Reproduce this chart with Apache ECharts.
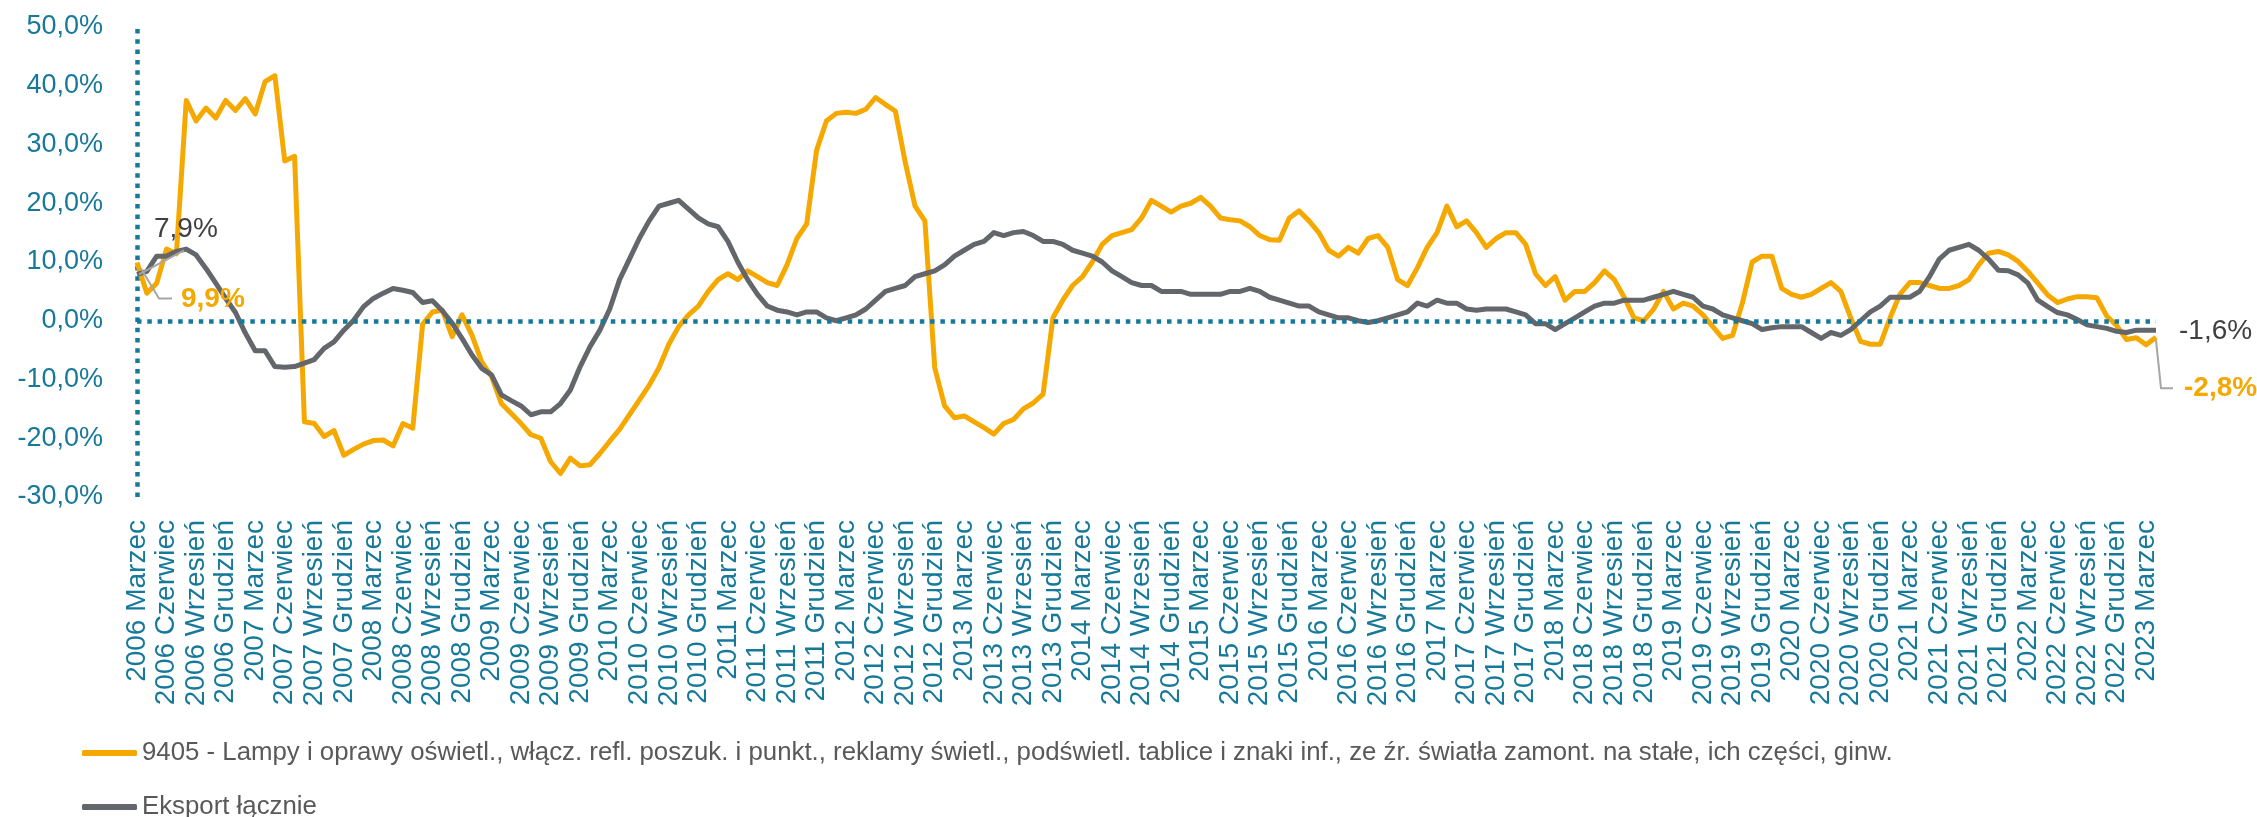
<!DOCTYPE html>
<html>
<head>
<meta charset="utf-8">
<script src="https://cdn.jsdelivr.net/npm/echarts/dist/echarts.min.js"></script>
<style>
  html, body { margin: 0; padding: 0; background: #fff; }
  #main { width: 2257px; height: 817px; }
</style>
</head>
<body>
<div id="main"></div>
<script>
// miesiące od 2006 Marzec do 2023 Kwiecień
var monthNames = ['Styczeń', 'Luty', 'Marzec', 'Kwiecień', 'Maj', 'Czerwiec', 'Lipiec',
                  'Sierpień', 'Wrzesień', 'Październik', 'Listopad', 'Grudzień'];
var startYear = 2006, startMonth = 2, monthCount = 206;

var lampyName = '9405 - Lampy i oprawy oświetl., włącz. refl. poszuk. i punkt., reklamy świetl., podświetl. tablice i znaki inf., ze źr. światła zamont. na stałe, ich części, ginw.';
var eksportName = 'Eksport łącznie';

// dynamika r/r, %
var lampy = [
  9.9, 4.7, 6.4, 12.2, 11.4, 37.5, 34.0, 36.2, 34.5, 37.5, 35.8, 37.8,
  35.2, 40.7, 41.7, 27.2, 28.0, -17.2, -17.5, -19.7, -18.7, -22.9, -21.9, -21.0,
  -20.4, -20.3, -21.3, -17.5, -18.3, -0.6, 1.5, 1.8, -2.7, 1.0, -2.4, -7.0,
  -9.5, -14.1, -15.8, -17.5, -19.4, -20.0, -24.0, -26.0, -23.4, -24.7, -24.5, -22.6,
  -20.5, -18.5, -16.0, -13.5, -11.0, -8.0, -4.0, -1.0, 1.0, 2.5, 5.0, 7.0,
  8.0, 7.0, 8.5, 7.5, 6.5, 6.0, 9.5, 14.0, 16.5, 29.0, 34.0, 35.3,
  35.5, 35.3, 36.0, 38.0, 36.8, 35.7, 27.0, 19.5, 17.0, -8.0, -14.5, -16.5,
  -16.2, -17.2, -18.2, -19.3, -17.5, -16.8, -15.0, -14.0, -12.5, 0.5, 3.5, 6.0,
  7.5, 10.0, 13.0, 14.5, 15.0, 15.5, 17.5, 20.5, 19.5, 18.5, 19.5, 20.0,
  21.0, 19.5, 17.5, 17.2, 17.0, 16.0, 14.5, 13.8, 13.7, 17.5, 18.7, 17.0,
  15.0, 12.0, 11.0, 12.5, 11.5, 14.0, 14.5, 12.5, 7.0, 6.0, 9.0, 12.5,
  15.0, 19.5, 16.0, 17.0, 15.0, 12.5, 14.0, 15.0, 15.0, 13.0, 8.0, 6.0,
  7.5, 3.5, 5.0, 5.0, 6.5, 8.5, 7.0, 4.0, 0.5, 0.0, 2.0, 5.0,
  2.0, 3.0, 2.5, 1.0, -1.0, -3.0, -2.5, 3.0, 10.0, 11.0, 11.0, 5.5,
  4.5, 4.0, 4.5, 5.5, 6.5, 5.0, 0.5, -3.5, -4.0, -4.0, 0.5, 4.5,
  6.5, 6.5, 6.0, 5.5, 5.5, 6.0, 7.0, 9.5, 11.5, 11.8, 11.2, 10.1,
  8.4, 6.4, 4.4, 3.1, 3.7, 4.1, 4.1, 3.9, 0.8, -0.8, -3.2, -2.9,
  -4.1, -2.8
];

var eksport = [
  7.9, 8.4, 11.0, 11.0, 11.8, 12.2, 11.2, 8.9, 6.4, 3.8, 1.4, -2.1,
  -5.1, -5.1, -7.8, -7.9, -7.8, -7.2, -6.6, -4.7, -3.6, -1.6, 0.1, 2.4,
  3.8, 4.7, 5.5, 5.2, 4.8, 3.1, 3.4, 1.7, -0.4, -3.0, -5.8, -8.1,
  -9.2, -12.6, -13.6, -14.5, -16.0, -15.5, -15.5, -14.1, -11.8, -7.8, -4.4, -1.6,
  2.0, 7.0, 10.5, 14.0, 17.0, 19.5, 20.0, 20.5, 19.0, 17.5, 16.5, 16.0,
  13.5, 10.0, 7.0, 4.5, 2.5, 1.8, 1.5, 1.0, 1.5, 1.5, 0.5, 0.0,
  0.5, 1.0, 2.0, 3.5, 5.0, 5.5, 6.0, 7.5, 8.0, 8.5, 9.5, 11.0,
  12.0, 13.0, 13.5, 15.0, 14.5, 15.0, 15.2, 14.5, 13.5, 13.5, 13.0, 12.0,
  11.5, 11.0, 10.0, 8.5, 7.5, 6.5, 6.0, 6.0, 5.0, 5.0, 5.0, 4.5,
  4.5, 4.5, 4.5, 5.0, 5.0, 5.5, 5.0, 4.0, 3.5, 3.0, 2.5, 2.5,
  1.5, 1.0, 0.5, 0.5, 0.0, -0.3, 0.0, 0.5, 1.0, 1.5, 3.0, 2.5,
  3.5, 3.0, 3.0, 2.0, 1.8, 2.0, 2.0, 2.0, 1.5, 1.0, -0.5, -0.5,
  -1.5, -0.5, 0.5, 1.5, 2.5, 3.0, 3.0, 3.5, 3.5, 3.5, 4.0, 4.5,
  5.0, 4.5, 4.0, 2.5, 2.0, 1.0, 0.5, 0.0, -0.5, -1.5, -1.2, -1.0,
  -1.0, -1.0, -2.0, -3.0, -2.0, -2.5, -1.5, 0.0, 1.5, 2.5, 4.0, 4.0,
  4.0, 5.0, 7.5, 10.5, 12.0, 12.5, 13.0, 12.0, 10.5, 8.6, 8.5, 7.8,
  6.4, 3.5, 2.4, 1.4, 1.0, 0.2, -0.7, -1.0, -1.3, -1.8, -2.0, -1.6,
  -1.6, -1.6
];

var categories = [];
for (var k = 0; k < monthCount; k++) {
  var m = startMonth + k;
  categories.push((startYear + Math.floor(m / 12)) + ' ' + monthNames[m % 12]);
}

var teal = '#17799A';
var orange = '#F5A800';
var grey = '#63666A';
var font = 'Liberation Sans';

function pct(v) { return v.toFixed(1).replace('.', ',') + '%'; }

function legendRow(name, top) {
  return {
    data: [name],
    left: 82, top: top,
    padding: 0,
    itemWidth: 55, itemHeight: 6,
    icon: 'roundRect',
    textStyle: { fontFamily: font, fontSize: 25.8, color: '#595959', lineHeight: 32 }
  };
}

var chart = echarts.init(document.getElementById('main'));
chart.setOption({
  animation: false,
  textStyle: { fontFamily: font },
  grid: { left: 137, right: 101, top: 27, bottom: 320, containLabel: false },
  legend: [legendRow(lampyName, 737), legendRow(eksportName, 791)],
  xAxis: {
    type: 'category',
    data: categories,
    boundaryGap: false,
    axisLine: { show: false },
    axisTick: { show: false },
    axisLabel: {
      interval: 2, rotate: 90, margin: 23,
      fontFamily: font, fontSize: 28, color: teal
    },
    splitLine: { show: false }
  },
  yAxis: {
    type: 'value',
    min: -30, max: 50, interval: 10,
    axisLine: { show: true, lineStyle: { color: teal, width: 4.5, type: [4.5, 5.8], cap: 'butt' } },
    axisTick: { show: false },
    splitLine: { show: false },
    axisLabel: { margin: 34, fontFamily: font, fontSize: 27, color: teal, formatter: pct }
  },
  series: [
    {
      type: 'line', name: 'zero', data: [], z: 1, silent: true,
      markLine: {
        silent: true, symbol: 'none', label: { show: false },
        lineStyle: { color: teal, width: 4.5, type: [4.5, 5.8], cap: 'butt' },
        data: [{ yAxis: 0 }]
      }
    },
    {
      type: 'line', name: lampyName, data: lampy, z: 3,
      showSymbol: false, symbol: 'none',
      lineStyle: { color: orange, width: 5, join: 'round' },
      itemStyle: { color: orange }
    },
    {
      type: 'line', name: eksportName, data: eksport, z: 4,
      showSymbol: false, symbol: 'none',
      lineStyle: { color: grey, width: 5, join: 'round' },
      itemStyle: { color: grey }
    }
  ]
});

// etykiety pierwszego i ostatniego punktu z liniami odniesienia
function pt(seriesIndex, arr, i) {
  return chart.convertToPixel({ seriesIndex: seriesIndex }, [i, arr[i]]);
}
var last = monthCount - 1;
var g0 = pt(2, eksport, 0), o0 = pt(1, lampy, 0);
var gN = pt(2, eksport, last), oN = pt(1, lampy, last);
var leader = { stroke: '#A6A6A6', lineWidth: 2, fill: null };
chart.setOption({
  graphic: [
    { type: 'polyline', z: 10, shape: { points: [[g0[0] + 2, g0[1]], [g0[0] + 47, g0[1] - 24]] }, style: leader },
    { type: 'text', z: 10, left: g0[0] + 17, top: g0[1] - 59,
      style: { text: pct(eksport[0]), font: '28px "Liberation Sans"', fill: '#404040' } },
    { type: 'polyline', z: 10, shape: { points: [[o0[0] + 4, o0[1] + 6], [o0[0] + 22, o0[1] + 36], [o0[0] + 35, o0[1] + 36]] }, style: leader },
    { type: 'text', z: 10, left: o0[0] + 44, top: o0[1] + 23,
      style: { text: pct(lampy[0]), font: 'bold 28px "Liberation Sans"', fill: orange } },
    { type: 'text', z: 10, left: gN[0] + 23, top: gN[1] - 13,
      style: { text: pct(eksport[last]), font: '28px "Liberation Sans"', fill: '#404040' } },
    { type: 'polyline', z: 10, shape: { points: [[oN[0], oN[1] + 3], [oN[0] + 5, oN[1] + 51], [oN[0] + 17, oN[1] + 51]] }, style: leader },
    { type: 'text', z: 10, left: oN[0] + 28, top: oN[1] + 37,
      style: { text: pct(lampy[last]), font: 'bold 28px "Liberation Sans"', fill: orange } }
  ]
});
</script>
</body>
</html>
